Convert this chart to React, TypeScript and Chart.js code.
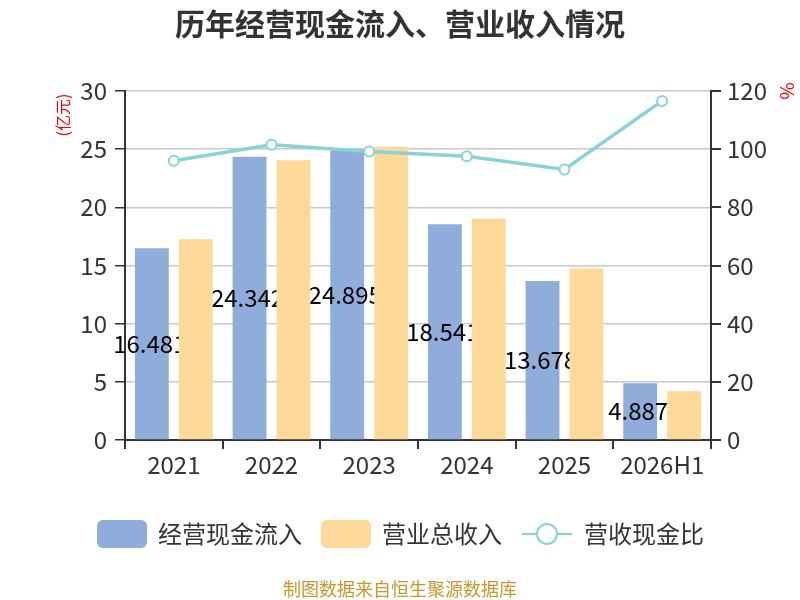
import { useEffect, useRef } from "react";
import { Chart, registerables, type ChartOptions, type Plugin } from "chart.js";

Chart.register(...registerables);

const categories = ["2021", "2022", "2023", "2024", "2025", "2026H1"];
const cashInflow = [16.481, 24.342, 24.895, 18.541, 13.678, 4.887];
const revenue = [17.25, 24.05, 25.2, 19.05, 14.75, 4.2];
const cashRatio = [96.0, 101.5, 99.2, 97.6, 93.0, 116.6];

const seriesNames = ["经营现金流入", "营业总收入", "营收现金比"];
const titleText = "历年经营现金流入、营业收入情况";
const sourceText = "制图数据来自恒生聚源数据库";

const FONT = '"Noto Sans CJK SC", "Noto Sans", sans-serif';
const BLUE = "#8eaddb";
const ORANGE = "#ffd999";
const TEAL = "#88d3d6";
const TEXT = "#333333";

// value labels sit on the blue bars; the orange bars hide their overflow
const barLabels: Plugin<"bar"> = {
  id: "barLabels",
  afterDatasetsDraw(chart) {
    const ctx = chart.ctx;
    const blue = chart.getDatasetMeta(0).data as any[];
    const orange = chart.getDatasetMeta(1).data as any[];
    ctx.save();
    ctx.beginPath();
    ctx.rect(0, 0, chart.width, chart.height);
    orange.forEach((el) => {
      const half = el.width / 2;
      ctx.rect(el.x - half, el.y, el.width, el.base - el.y);
    });
    ctx.clip("evenodd");
    ctx.font = `24px ${FONT}`;
    ctx.fillStyle = "#000";
    ctx.textAlign = "center";
    ctx.textBaseline = "middle";
    blue.forEach((el, i) => {
      ctx.fillText(String(cashInflow[i]), el.x - 2, (el.y + el.base) / 2);
    });
    ctx.restore();
  },
};

const decorations: Plugin<"bar"> = {
  id: "decorations",
  afterDraw(chart) {
    const ctx = chart.ctx;
    ctx.save();
    // title
    ctx.fillStyle = TEXT;
    ctx.font = `bold 30px ${FONT}`;
    ctx.textAlign = "center";
    ctx.textBaseline = "middle";
    ctx.fillText(titleText, 400, 24);

    // axis units
    ctx.fillStyle = "#ff0000";
    ctx.font = `16px ${FONT}`;
    ctx.save();
    ctx.translate(63, 115);
    ctx.rotate(-Math.PI / 2);
    ctx.fillText("(亿元)", 0, 0);
    ctx.restore();
    ctx.save();
    ctx.translate(787, 91);
    ctx.rotate(Math.PI / 2);
    ctx.font = `19px ${FONT}`;
    ctx.fillText("%", 0, 0);
    ctx.restore();

    // legend
    const ly = 534;
    ctx.font = `24px ${FONT}`;
    ctx.textAlign = "left";
    ctx.fillStyle = BLUE;
    ctx.beginPath();
    ctx.roundRect(97, ly - 14, 50, 28, 6);
    ctx.fill();
    ctx.fillStyle = TEXT;
    ctx.fillText(seriesNames[0], 158, ly);

    ctx.fillStyle = ORANGE;
    ctx.beginPath();
    ctx.roundRect(321, ly - 14, 50, 28, 6);
    ctx.fill();
    ctx.fillStyle = TEXT;
    ctx.fillText(seriesNames[1], 382, ly);

    ctx.strokeStyle = TEAL;
    ctx.lineWidth = 2;
    ctx.beginPath();
    ctx.moveTo(522, ly);
    ctx.lineTo(572, ly);
    ctx.stroke();
    ctx.fillStyle = "#fff";
    ctx.beginPath();
    ctx.arc(547, ly, 10, 0, Math.PI * 2);
    ctx.fill();
    ctx.stroke();
    ctx.fillStyle = TEXT;
    ctx.fillText(seriesNames[2], 584, ly);

    // source
    ctx.fillStyle = "#c9962b";
    ctx.font = `18px ${FONT}`;
    ctx.textAlign = "center";
    ctx.fillText(sourceText, 400, 589);
    ctx.restore();
  },
};

export default function App() {
  const canvasRef = useRef<HTMLCanvasElement | null>(null);
  const chartRef = useRef<Chart | null>(null);

  useEffect(() => {
    if (!canvasRef.current) return;
    if (chartRef.current) chartRef.current.destroy();

    const tickFont = { size: 24, family: FONT };

    const options: ChartOptions<"bar"> = {
      responsive: true,
      maintainAspectRatio: false,
      animation: false,
      layout: { padding: { top: 91, left: 0, right: 0, bottom: 0 } },
      plugins: {
        legend: { display: false },
        tooltip: { enabled: false },
      },
      scales: {
        x: {
          offset: true,
          grid: {
            offset: true,
            drawOnChartArea: false,
            tickLength: 9,
            tickColor: TEXT,
            lineWidth: 2,
          },
          border: { color: TEXT, width: 2 },
          ticks: { font: tickFont, color: TEXT, padding: 1 },
          afterFit: (s) => {
            s.height = 160;
          },
        },
        y: {
          position: "left",
          min: 0,
          max: 30,
          ticks: { stepSize: 5, font: tickFont, color: TEXT, padding: 8 },
          grid: { color: "#c8c8c8", lineWidth: 1.5, tickColor: TEXT, tickLength: 10 },
          border: { color: TEXT, width: 2 },
          afterFit: (s) => {
            s.width = 125;
          },
        },
        y1: {
          position: "right",
          min: 0,
          max: 120,
          ticks: { stepSize: 20, font: tickFont, color: TEXT, padding: 6 },
          grid: { drawOnChartArea: false, tickColor: TEXT, tickLength: 10, lineWidth: 2 },
          border: { color: TEXT, width: 2 },
          afterFit: (s) => {
            s.width = 89;
          },
        },
      },
    };

    chartRef.current = new Chart(canvasRef.current, {
      type: "bar",
      data: {
        labels: categories,
        datasets: [
          {
            label: seriesNames[0],
            data: cashInflow,
            backgroundColor: BLUE,
            yAxisID: "y",
            order: 1,
            categoryPercentage: 0.9,
            barPercentage: 0.77,
          },
          {
            label: seriesNames[1],
            data: revenue,
            backgroundColor: ORANGE,
            yAxisID: "y",
            order: 1,
            categoryPercentage: 0.9,
            barPercentage: 0.77,
          },
          {
            type: "line" as any,
            label: seriesNames[2],
            data: cashRatio,
            yAxisID: "y1",
            order: 0,
            borderColor: TEAL,
            borderWidth: 3.5,
            pointRadius: 5,
            pointBorderWidth: 2,
            pointBackgroundColor: "#fff",
            pointBorderColor: TEAL,
            tension: 0,
          } as any,
        ],
      },
      options,
      plugins: [barLabels, decorations],
    });

    return () => {
      chartRef.current?.destroy();
      chartRef.current = null;
    };
  }, []);

  return (
    <div style={{ position: "absolute", left: 0, top: 0, width: 800, height: 600 }}>
      <canvas ref={canvasRef} />
    </div>
  );
}
